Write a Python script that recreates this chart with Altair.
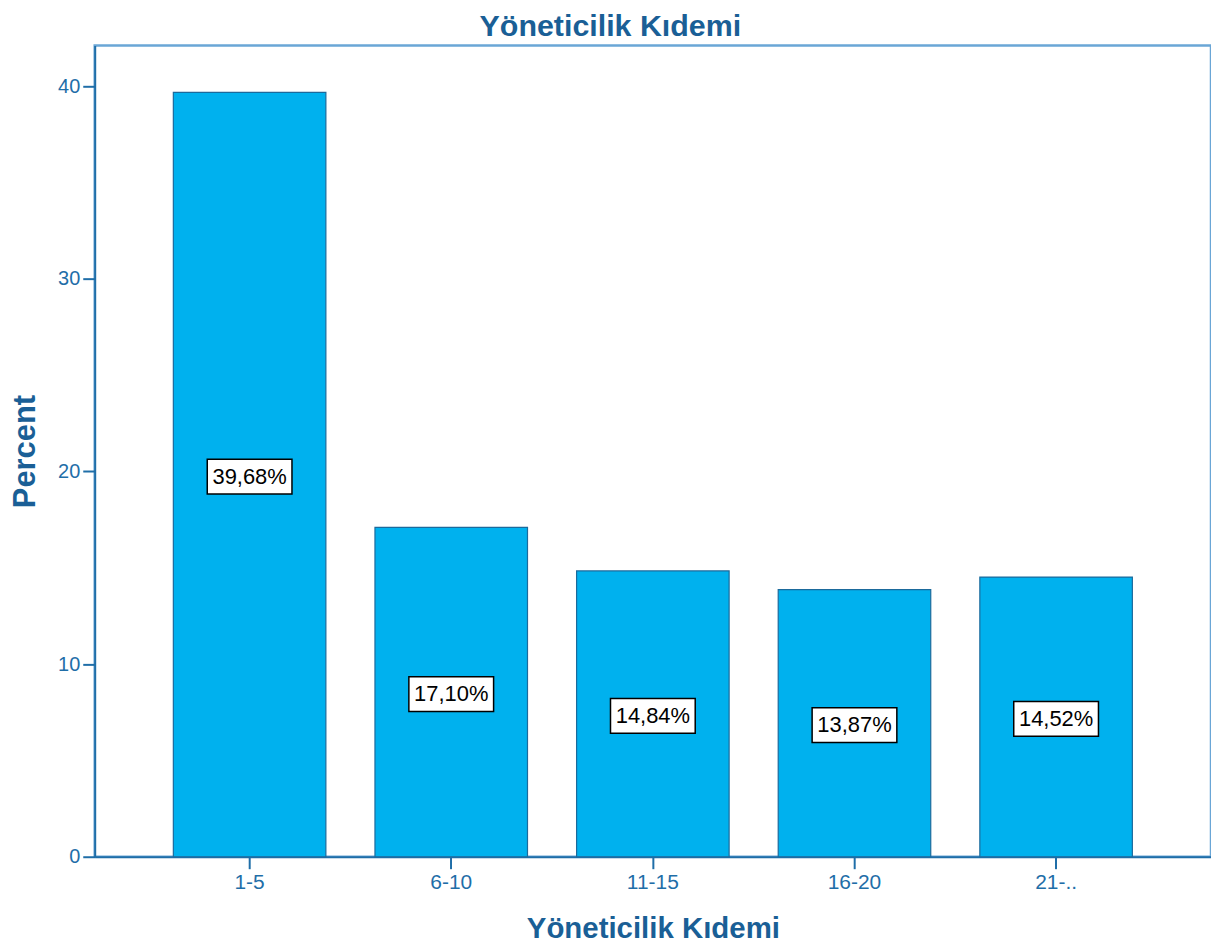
import altair as alt
import pandas as pd

categories = ["1-5", "6-10", "11-15", "16-20", "21-.."]
percents = [39.68, 17.10, 14.84, 13.87, 14.52]
labels = ["39,68%", "17,10%", "14,84%", "13,87%", "14,52%"]

df = pd.DataFrame({"cat": categories, "pct": percents, "label": labels})
df["mid"] = df["pct"] / 2

AX = "#1f6ea8"
TITLE = "#1a5f96"
FONT = "Liberation Sans"

x = alt.X("cat:N", sort=categories,
          scale=alt.Scale(paddingInner=0.2435, paddingOuter=0.39),
          axis=alt.Axis(title="Yöneticilik Kıdemi", labelAngle=0, labelFontSize=21,
                        labelColor=AX, labelFont=FONT, titleFont=FONT, titleFontSize=29.5,
                        titleColor=TITLE, titleFontWeight="bold", titlePadding=22,
                        domainColor=AX, domainWidth=2, tickColor=AX, tickWidth=2,
                        tickSize=12, labelPadding=3))
y = alt.Y("pct:Q", scale=alt.Scale(domain=[0, 42.12], nice=False, zero=True),
          axis=alt.Axis(title="Percent", values=[0, 10, 20, 30, 40], grid=False,
                        labelFontSize=20, labelColor=AX, labelFont=FONT,
                        titleFont=FONT, titleFontSize=31, titleColor=TITLE,
                        titleFontWeight="bold", titlePadding=16,
                        domainColor=AX, domainWidth=2, tickColor=AX, tickWidth=2,
                        tickSize=12, labelPadding=3))

bars = alt.Chart(df).mark_bar(color="#00b1ee", stroke="#1b6a9c", strokeWidth=1.2).encode(
    x=x, y=y)

boxes = alt.Chart(df).mark_point(
    shape="M-1,-0.41 L1,-0.41 L1,0.41 L-1,0.41 Z", size=7225, filled=True,
    fill="white", stroke="black", strokeWidth=1.5, opacity=1, yOffset=2
).encode(x=alt.X("cat:N", sort=categories), y=alt.Y("mid:Q"))

texts = alt.Chart(df).mark_text(
    font=FONT, fontSize=22, color="black", baseline="middle", align="center", dy=2
).encode(x=alt.X("cat:N", sort=categories), y=alt.Y("mid:Q"), text="label:N")

chart = alt.layer(bars, boxes, texts).properties(
    width=1120, height=814,
    background="white",
    title=alt.TitleParams("Yöneticilik Kıdemi", font=FONT, fontSize=30.5, fontWeight="bold",
                          color=TITLE, anchor="middle", frame="bounds", offset=3),
    autosize=alt.AutoSizeParams(type="none"),
    padding={"left": 87, "top": 36, "right": 0, "bottom": 86},
).configure_view(stroke="#6aa6d6", strokeWidth=2.5)

chart.save("out.html", embed_options={"renderer": "svg", "actions": False})
